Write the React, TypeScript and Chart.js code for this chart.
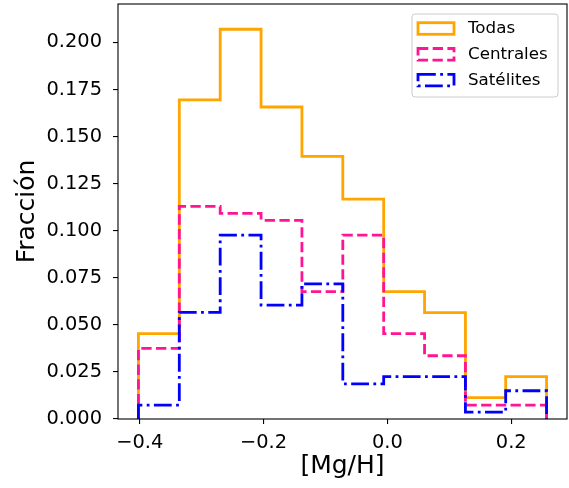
import React, { useEffect, useRef } from "react";
import { Chart, registerables } from "chart.js";

Chart.register(...registerables);

// Bin edges of [Mg/H]
const binEdges = [-0.402, -0.336, -0.270, -0.204, -0.138, -0.072, -0.006, 0.060, 0.126, 0.191, 0.257];
// Fractions per bin
const todas = [0.0453, 0.1695, 0.2070, 0.1657, 0.1395, 0.1168, 0.0676, 0.0565, 0.0113, 0.0225];
const centrales = [0.0375, 0.1129, 0.1092, 0.1055, 0.0676, 0.0977, 0.0453, 0.0336, 0.0074, 0.0074];
const satelites = [0.0074, 0.0566, 0.0977, 0.0605, 0.0718, 0.0187, 0.0225, 0.0225, 0.0037, 0.0150];

const seriesLabels = ["Todas", "Centrales", "Satélites"];
const xTicks = [-0.4, -0.2, 0.0, 0.2];
const yTicks = [0, 0.025, 0.05, 0.075, 0.1, 0.125, 0.15, 0.175, 0.2];
const xTitle = "[Mg/H]";
const yTitle = "Fracción";

const FONT = '"DejaVu Sans", sans-serif';

function stepPoints(values: number[]) {
  const pts: { x: number; y: number }[] = [{ x: binEdges[0], y: 0 }];
  values.forEach((v, i) => pts.push({ x: binEdges[i], y: v }));
  pts.push({ x: binEdges[binEdges.length - 1], y: values[values.length - 1] });
  pts.push({ x: binEdges[binEdges.length - 1], y: 0 });
  return pts;
}

const framePlugin = {
  id: "frame",
  afterDatasetsDraw(chart: any) {
    const { ctx, chartArea } = chart;
    ctx.save();
    ctx.strokeStyle = "#000";
    ctx.lineWidth = 1.1;
    ctx.strokeRect(chartArea.left, chartArea.top, chartArea.right - chartArea.left, chartArea.bottom - chartArea.top);
    ctx.restore();
  },
};

const legendPlugin = {
  id: "mplLegend",
  afterDraw(chart: any) {
    const { ctx, chartArea } = chart;
    const w = 146;
    const h = 83;
    const x = chartArea.right - 9 - w;
    const y = chartArea.top + 10;
    const r = 3;
    ctx.save();
    ctx.beginPath();
    ctx.moveTo(x + r, y);
    ctx.lineTo(x + w - r, y);
    ctx.arcTo(x + w, y, x + w, y + r, r);
    ctx.lineTo(x + w, y + h - r);
    ctx.arcTo(x + w, y + h, x + w - r, y + h, r);
    ctx.lineTo(x + r, y + h);
    ctx.arcTo(x, y + h, x, y + h - r, r);
    ctx.lineTo(x, y + r);
    ctx.arcTo(x, y, x + r, y, r);
    ctx.closePath();
    ctx.fillStyle = "rgba(255,255,255,0.8)";
    ctx.fill();
    ctx.strokeStyle = "#cccccc";
    ctx.lineWidth = 1;
    ctx.stroke();
    chart.data.datasets.forEach((ds: any, i: number) => {
      const cy = y + 14.5 + i * 25.8;
      ctx.strokeStyle = ds.borderColor;
      ctx.lineWidth = ds.borderWidth;
      ctx.setLineDash(ds.borderDash || []);
      ctx.lineJoin = "miter";
      ctx.strokeRect(x + 6, cy - 5.8, 36, 11.6);
      ctx.setLineDash([]);
      ctx.fillStyle = "#000";
      ctx.font = `16.7px ${FONT}`;
      ctx.textBaseline = "middle";
      ctx.textAlign = "left";
      ctx.fillText(ds.label, x + 56, cy + 0.5);
    });
    ctx.restore();
  },
};

export default function App() {
  const ref = useRef<HTMLCanvasElement>(null);

  useEffect(() => {
    if (!ref.current) return;
    Chart.defaults.font.family = FONT;
    Chart.defaults.color = "#000";
    const common = {
      borderWidth: 2.8,
      stepped: "before" as const,
      pointRadius: 0,
      fill: false,
      tension: 0,
    };
    const chart = new Chart(ref.current, {
      type: "line",
      data: {
        datasets: [
          { ...common, label: seriesLabels[0], data: stepPoints(todas), borderColor: "#FFA500", order: 3 },
          {
            ...common,
            label: seriesLabels[1],
            data: stepPoints(centrales),
            borderColor: "#FF1493",
            borderDash: [10.3, 4.4],
            order: 2,
          },
          {
            ...common,
            label: seriesLabels[2],
            data: stepPoints(satelites),
            borderColor: "#0000FF",
            borderDash: [17.8, 4.4, 2.8, 4.4],
            order: 1,
          },
        ],
      },
      options: {
        animation: false,
        responsive: false,
        devicePixelRatio: 1,
        events: [],
        layout: { padding: { top: 4, right: 2, left: 0, bottom: 0 } },
        plugins: { legend: { display: false }, tooltip: { enabled: false } },
        scales: {
          x: {
            type: "linear",
            min: -0.435,
            max: 0.29,
            afterFit: (s: any) => {
              s.height = 69;
              s.paddingLeft = 0;
              s.paddingRight = 0;
            },
            afterBuildTicks: (s: any) => {
              s.ticks = xTicks.map((v) => ({ value: v }));
            },
            grid: { drawOnChartArea: false, drawTicks: true, tickLength: 5, color: "#000", lineWidth: 1.1 },
            border: { display: false },
            ticks: {
              padding: 7,
              autoSkip: false,
              maxRotation: 0,
              font: { size: 19.4 },
              color: "#000",
              callback: (v: any) => Number(v).toFixed(1).replace("-", "\u2212"),
            },
            title: {
              display: true,
              text: xTitle,
              font: { size: 25 },
              color: "#000",
              padding: { top: 0, bottom: 7 },
            },
          },
          y: {
            type: "linear",
            min: 0,
            max: 0.2204,
            afterFit: (s: any) => {
              s.width = 118;
              s.paddingTop = 0;
              s.paddingBottom = 0;
            },
            afterBuildTicks: (s: any) => {
              s.ticks = yTicks.map((v) => ({ value: v }));
            },
            grid: { drawOnChartArea: false, drawTicks: true, tickLength: 5, color: "#000", lineWidth: 1.1 },
            border: { display: false },
            ticks: {
              padding: 11,
              autoSkip: false,
              font: { size: 19.4 },
              color: "#000",
              callback: (v: any) => Number(v).toFixed(3),
            },
            title: {
              display: true,
              text: yTitle,
              font: { size: 25 },
              color: "#000",
              padding: { top: 12, bottom: 0 },
            },
          },
        },
      },
      plugins: [framePlugin, legendPlugin],
    });
    return () => chart.destroy();
  }, []);

  return (
    <div style={{ position: "fixed", left: 0, top: 0, width: 569, height: 488, background: "#fff" }}>
      <canvas ref={ref} width={569} height={488} />
    </div>
  );
}
